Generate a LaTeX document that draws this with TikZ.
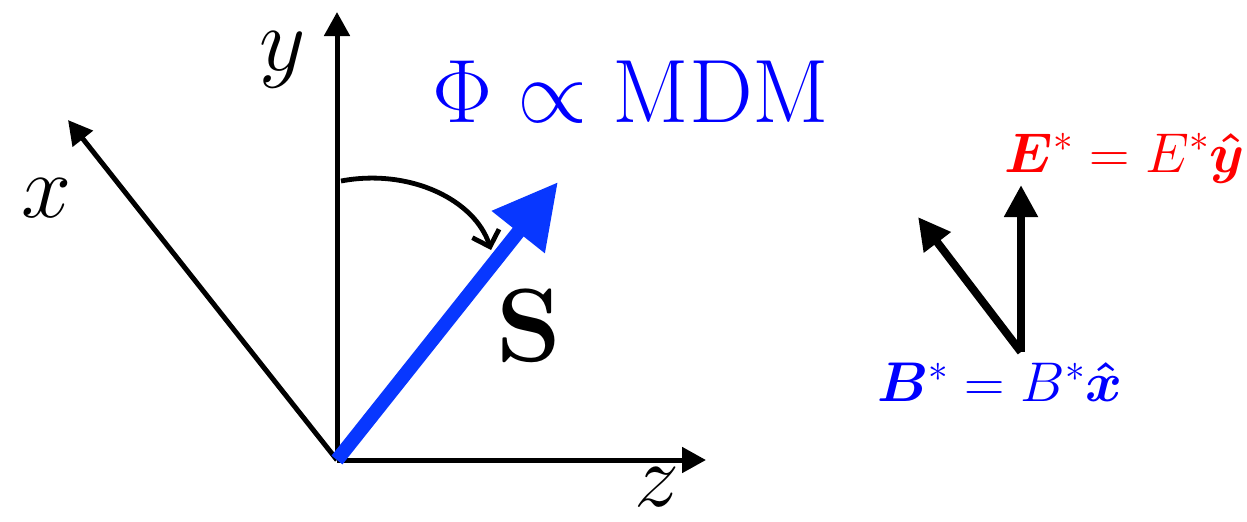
\RequirePackage{fix-cm}
\documentclass[tikz,border=0pt]{standalone}
\usepackage{amsmath,bm}
\usetikzlibrary{arrows.meta}
\definecolor{sblue}{RGB}{8,55,255}
\tikzset{
  axis/.style={line width=2.5pt,-{Triangle[length=12pt,width=12.5pt]}},
  spin/.style={sblue,line width=7pt,-{Triangle[length=32pt,width=32pt]}},
  field/.style={line width=4pt,-{Triangle[length=16pt,width=16pt]}},
  rot/.style={line width=2.4pt,-{Straight Barb[length=7pt,width=14pt]}},
  big/.style={font=\fontsize{45}{50}\selectfont},
  lbl/.style={font=\fontsize{28}{32}\selectfont},
}
\begin{document}
\begin{tikzpicture}[x=0.5pt,y=-0.5pt]
\useasboundingbox (0,0) rectangle (1247,521);
\coordinate (O) at (337,460);
\coordinate (ytip) at (337,12);
\coordinate (ztip) at (706,460);
\coordinate (xtip) at (68,120);
\coordinate (stip) at (558,182);
\coordinate (rs) at (341,181);
\coordinate (re) at (491,250);
\draw[axis] (O) -- (ytip);
\draw[axis] (O) -- (ztip);
\draw[axis] (O) -- (xtip);
\draw[rot] (rs) .. controls (410,168) and (475,200) .. (re);
\draw[spin] (O) -- (stip);
\node[big] (ylab) at (283,60) {$y$};
\node[big] (xlab) at (47,198) {$x$};
\node[big] (zlab) at (657,487) {$z$};
\node[big,text=blue] (phi) at (631,92) {$\Phi\propto\mathrm{MDM}$};
\node[font=\fontsize{52}{56}\selectfont] (slab) at (529,326) {$\mathbf{S}$};
\coordinate (F) at (1021,352);
\coordinate (etip) at (1021,185);
\coordinate (btip) at (918,217);
\draw[field] (F) -- (etip);
\draw[field] (F) -- (btip);
\node[lbl,text=red] (elab) at (1125,158) {$\bm{E}^{*}=E^{*}\bm{\hat{y}}$};
\node[lbl,text=blue] (blab) at (1000,382) {$\bm{B}^{*}=B^{*}\bm{\hat{x}}$};
\end{tikzpicture}
\end{document}
